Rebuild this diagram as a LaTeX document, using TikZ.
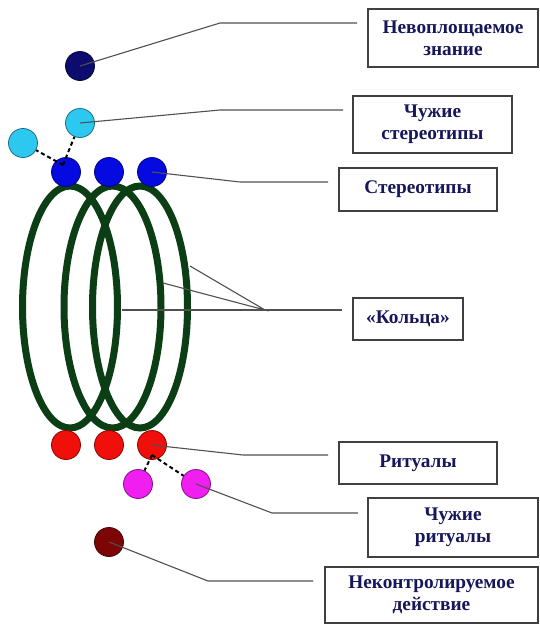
\documentclass[tikz,border=0pt]{standalone}
\usepackage{fontspec}
\setmainfont{Liberation Serif}
\definecolor{navy}{RGB}{12,12,110}
\definecolor{lblue}{RGB}{45,200,240}
\definecolor{cblue}{RGB}{5,10,225}
\definecolor{cred}{RGB}{240,15,10}
\definecolor{cmag}{RGB}{240,30,240}
\definecolor{dred}{RGB}{125,5,5}
\definecolor{ringc}{RGB}{12,62,22}
\definecolor{txtc}{RGB}{22,22,90}
\definecolor{linc}{RGB}{80,80,80}
\begin{document}
\begin{tikzpicture}[x=1pt,y=-1pt,
  ball/.style={circle,minimum size=29pt,inner sep=0pt,fill=#1,draw=#1!55!black,line width=0.8pt},
  tbox/.style={draw=black!75,line width=1.3pt,fill=white,inner sep=0pt,align=center,
    font=\bfseries\fontsize{19.3}{22}\selectfont,text=txtc},
  lead/.style={draw=linc,line width=1.1pt},
  dashline/.style={draw=black,line width=2pt,dash pattern=on 4pt off 3pt},
  ringline/.style={draw=ringc,line width=7pt}]
\useasboundingbox (0,0) rectangle (539,624);
\fill[white] (0,0) rectangle (539,624);

% rings
\draw[ringline] (70,307) ellipse [x radius=47.5pt, y radius=121pt];
\draw[ringline] (112.5,307) ellipse [x radius=48.5pt, y radius=121pt];
\draw[ringline] (140,307) ellipse [x radius=47.5pt, y radius=121pt];

% balls
\node[ball=navy] (nav) at (80,66) {};
\node[ball=lblue] (lb1) at (80,123) {};
\node[ball=lblue] (lb2) at (23,143) {};
\node[ball=cblue] (b1) at (66,172) {};
\node[ball=cblue] (b2) at (109,172) {};
\node[ball=cblue] (b3) at (152,172) {};
\node[ball=cred] (r1) at (66,445) {};
\node[ball=cred] (r2) at (109,445) {};
\node[ball=cred] (r3) at (152,445) {};
\node[ball=cmag] (m1) at (138,484) {};
\node[ball=cmag] (m2) at (196,484) {};
\node[ball=dred] (dr) at (109,542) {};

% boxes
\node[tbox,minimum width=170pt,minimum height=58pt] (nev) at (453,38) {Невоплощаемое\\знание};
\node[tbox,minimum width=159pt,minimum height=57pt] (chs) at (432.5,124.5) {Чужие\\стереотипы};
\node[tbox,minimum width=158pt,minimum height=43pt] (st) at (418,189.5) {Стереотипы};
\node[tbox,minimum width=110pt,minimum height=42pt] (kol) at (408,319) {«Кольца»};
\node[tbox,minimum width=158pt,minimum height=42pt] (rit) at (418,463) {Ритуалы};
\node[tbox,minimum width=170pt,minimum height=59pt] (chr) at (453,527.5) {Чужие\\ритуалы};
\node[tbox,minimum width=213pt,minimum height=56pt] (nek) at (431.5,595) {Неконтролируемое\\действие};

% dashed links
\coordinate (b1d) at (63,165);
\coordinate (r3d) at (152,455);
\draw[dashline] (b1d) -- (lb2);
\draw[dashline] (b1d) -- (lb1);
\draw[dashline] (r3d) -- (m1);
\draw[dashline] (r3d) -- (m2);

% leader lines
\coordinate (k1) at (220,23);  \coordinate (e1) at (357,23);
\coordinate (k2) at (220,110); \coordinate (e2) at (343,110);
\coordinate (k3) at (240,182); \coordinate (e3) at (328,182);
\coordinate (kk) at (265,310); \coordinate (e4) at (342,310);
\coordinate (ka) at (190,266); \coordinate (kb) at (163,283); \coordinate (kc) at (122,310);
\coordinate (k5) at (243,455); \coordinate (e5) at (328,455);
\coordinate (k6) at (272,513); \coordinate (e6) at (358,513);
\coordinate (k7) at (208,581); \coordinate (e7) at (313,581);

\draw[lead] (nav.center) -- (k1) -- (e1);
\draw[lead] (lb1.center) -- (k2) -- (e2);
\draw[lead] (b3.center) -- (k3) -- (e3);
\draw[lead] (ka) -- (kk) -- (kb);
\draw[lead] (kc) -- (e4);
\draw[lead] (r3.center) -- (k5) -- (e5);
\draw[lead] (m2.center) -- (k6) -- (e6);
\draw[lead] (dr.center) -- (k7) -- (e7);
\end{tikzpicture}
\end{document}
